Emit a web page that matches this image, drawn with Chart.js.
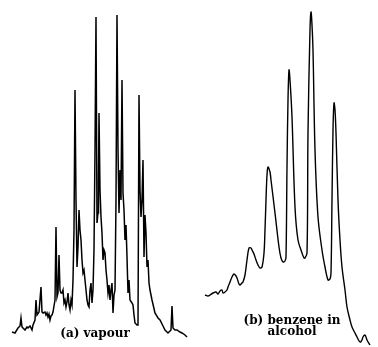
<!DOCTYPE html>
<html>
<head>
<meta charset="utf-8">
<script src="https://cdn.jsdelivr.net/npm/chart.js@4.4.0/dist/chart.umd.min.js"></script>
<style>
  html, body { margin: 0; padding: 0; background: #fff; }
  #wrap { position: relative; width: 378px; height: 347px; }
  .lbl { position: absolute; font-family: "DejaVu Serif", serif; font-weight: bold; font-size: 12px; color: #000; text-align: center; line-height: 11px; white-space: nowrap; }
</style>
</head>
<body>
<div id="wrap">
  <canvas id="c" width="378" height="347"></canvas>
  <div class="lbl" style="left:50px; top:328px; width:90px;">(a) vapour</div>
  <div class="lbl" style="left:237px; top:315px; width:110px;">(b) benzene in<br>alcohol</div>
</div>
<script>
// (a) vapour spectrum, x = wavelength position, y = absorbance (arbitrary units)
const vapourX = [12,15,18,20,21,22,23,25,27,28,30,32,33,35,36,37,39,41,42,43,45,46,47,48,49,50,51,52,53,55,56,57,58,59,60,61,62,63,64,65,66,67,68,69,70,71,72,73,74,75,76,77,78,79,80,81,82,83,84,85,86,87,88,89,90,91,92,93,94,95,96,97,98,98.5,99,100,101,102,103,104,105,106,107,108,109,110,111,112,113,114,115,116,117,118,119,120,121,122,123,124,125,126,127,128,129,130,132,133,134,135,137,138,139,140,141,142,143,144,145,146,147,148,149,150,152,155,158,160,163,165,168,170,171,172,173,175,177,180,182,185,187]
const vapourY = [15,14,19,21,29,20,19,17,20,19,21,17,22,27,47,32,35,60,35,34,35,32,34,30,33,27,31,32,35,47,120,50,54,92,57,54,54,57,44,47,40,45,54,42,37,47,42,67,117,257,147,80,100,137,117,107,87,74,77,67,57,47,42,40,57,64,44,57,97,197,330,124,134,167,234,157,130,114,87,97,94,77,67,54,62,47,57,64,34,52,57,147,332,197,134,177,147,267,154,137,107,122,90,54,67,47,44,42,32,24,22,22,252,157,130,147,187,90,132,114,80,87,64,57,47,34,29,27,21,17,14,16,17,41,19,17,17,15,14,12,10]

// (b) benzene in alcohol
const solutionX = [205,208,210,213,216,218,220,222,223,225,227,228,230,232,234,236,237,239,240,242,243,245,247,249,251,252,254,256,258,260,262,264,265,266,267,268,270,271,275,279,281,283,285,286,287,288,289,290,292,295,298,302,304,305,307,308,310,311,312,313,315,318,322,325,328,330,331,332,333,334,335,336,338,340,342,345,347,350,352,355,357,360,362,363,365,367,370]
const solutionY = [52,51,52,54,55,53,56,57,54,55,57,60,65,70,73,71,69,63,62,64,65,72,87,99,99,97,93,87,82,79,80,94,117,147,172,180,175,167,134,100,89,85,86,90,180,247,277,267,230,140,107,94,89,89,94,214,317,335,322,297,197,130,97,80,67,68,74,147,217,244,237,214,147,107,80,57,40,27,20,14,10,5,7,10,12,7,2]

const toPoints = (xs, ys) => xs.map((x, i) => ({ x: x, y: ys[i] }))

new Chart(document.getElementById('c').getContext('2d'), {
  type: 'scatter',
  data: {
    datasets: [{
      label: '(a) vapour',
      data: toPoints(vapourX, vapourY),
      showLine: true,
      borderColor: '#000',
      borderWidth: 1.5,
      pointRadius: 0,
      tension: 0
    }, {
      label: '(b) benzene in alcohol',
      data: toPoints(solutionX, solutionY),
      showLine: true,
      borderColor: '#000',
      borderWidth: 1.4,
      pointRadius: 0,
      tension: 0.35
    }]
  },
  options: {
    responsive: false,
    animation: false,
    layout: { padding: 0 },
    plugins: { legend: { display: false }, tooltip: { enabled: false } },
    scales: {
      x: { type: 'linear', min: 0, max: 378, display: false },
      y: { type: 'linear', min: 0, max: 347, display: false }
    }
  }
});
</script>
</body>
</html>
